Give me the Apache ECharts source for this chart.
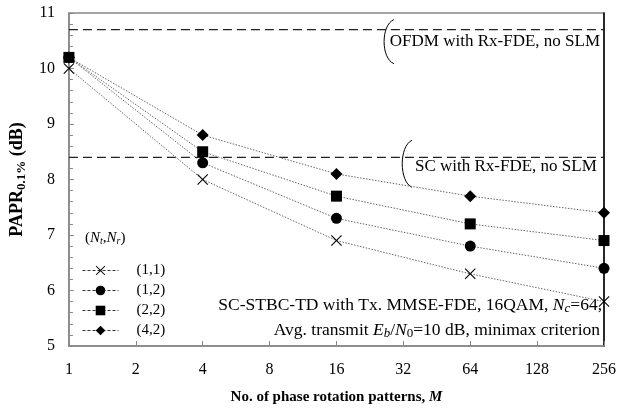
<!DOCTYPE html>
<html><head><meta charset="utf-8">
<script src="https://cdn.jsdelivr.net/npm/echarts@6/dist/echarts.min.js"></script>
<style>html,body{margin:0;padding:0;background:#fff}#c{width:619px;height:410px}</style>
</head><body><div id="c"></div>
<script>
// ---- data ----
var M = [1, 4, 16, 64, 256];
var s11 = [10.0, 8.0, 6.9, 6.3, 5.8];
var s12 = [10.2, 8.3, 7.3, 6.8, 6.4];
var s22 = [10.2, 8.5, 7.7, 7.2, 6.9];
var s42 = [10.2, 8.8, 8.1, 7.7, 7.4];
var seriesNames = ['(1,1)', '(1,2)', '(2,2)', '(4,2)'];
var ofdmRef = 10.7;
var scRef = 8.4;
var xTicks = [1, 2, 4, 8, 16, 32, 64, 128, 256];
var ofdmLabelM = 29;
var scLabelM = 35;

var FONT = '"Liberation Serif", "Times New Roman", serif';
var crossPath = 'path://M0.7,0 L5,4.3 L9.3,0 L10,0.7 L5.7,5 L10,9.3 L9.3,10 L5,5.7 L0.7,10 L0,9.3 L4.3,5 L0,0.7 Z';
var symbols = [crossPath, 'circle', 'rect', 'diamond'];
var sizes = [11, 11, 11, 12];
var allData = [s11, s12, s22, s42];

function pairs(arr) { return M.map(function (m, i) { return [m, arr[i]]; }); }

var series = allData.map(function (d, k) {
  return {
    name: seriesNames[k], type: 'line', data: pairs(d),
    symbol: symbols[k], symbolSize: sizes[k],
    itemStyle: { color: '#000' },
    lineStyle: { color: '#666', width: 1, type: [1.5, 1.5] },
    z: 3
  };
});
series.push({
  name: 'ofdm', type: 'line', data: [[xTicks[0], ofdmRef], [xTicks[xTicks.length - 1], ofdmRef]],
  symbol: 'none', lineStyle: { color: '#222', width: 1.2, type: [9, 5] }, silent: true, z: 2
});
series.push({
  name: 'sc', type: 'line', data: [[xTicks[0], scRef], [xTicks[xTicks.length - 1], scRef]],
  symbol: 'none', lineStyle: { color: '#222', width: 1.2, type: [9, 5] }, silent: true, z: 2
});

var chart = echarts.init(document.getElementById('c'), null, { renderer: 'canvas' });
var option = {
  animation: false,
  textStyle: { fontFamily: FONT },
  grid: { left: 62, right: 14, top: 13, bottom: 55, show: true, borderColor: '#888', borderWidth: 1.5 },
  xAxis: [{
    type: 'log', logBase: 2, min: 1, max: 256, interval: 1,
    axisLine: { lineStyle: { color: '#888', width: 1.5 } },
    axisTick: { inside: true, length: 5, lineStyle: { color: '#888' } },
    minorTick: { show: false },
    splitLine: { show: false },
    axisLabel: { color: '#000', fontSize: 16, fontFamily: FONT, margin: 16 },
    name: '{b|No. of phase rotation patterns, }{bi|M}',
    nameLocation: 'middle', nameGap: 44,
    nameTextStyle: { rich: {
      b: { fontFamily: FONT, fontWeight: 'bold', fontSize: 15, color: '#000' },
      bi: { fontFamily: FONT, fontWeight: 'bold', fontStyle: 'italic', fontSize: 15, color: '#000' }
    } }
  }],
  yAxis: [{
    type: 'value', min: 5, max: 11, interval: 1,
    axisLine: { show: true, lineStyle: { color: '#888', width: 1.5 } },
    axisTick: { show: true, inside: true, length: 5, lineStyle: { color: '#888' } },
    minorTick: { show: true, splitNumber: 5, length: 4, lineStyle: { color: '#888' } },
    splitLine: { show: false },
    axisLabel: { color: '#000', fontSize: 16, fontFamily: FONT, margin: 14 },
    name: '{b|PAPR}{s|0.1%}{b| (dB)}',
    nameLocation: 'middle', nameGap: 40, nameRotate: 90,
    nameTextStyle: { rich: {
      b: { fontFamily: FONT, fontWeight: 'bold', fontSize: 18, color: '#000' },
      s: { fontFamily: FONT, fontWeight: 'bold', fontSize: 13, color: '#000', padding: [9, 0, 0, 0] }
    } }
  }, {
    type: 'value', min: 5, max: 11, position: 'right',
    axisLine: { show: true, lineStyle: { color: '#000', width: 1.5 } },
    axisTick: { show: false }, axisLabel: { show: false }, splitLine: { show: false }
  }],
  legend: {
    data: seriesNames, orient: 'vertical', left: 77, top: 258,
    itemWidth: 36, itemHeight: 12, itemGap: 5,
    lineStyle: { type: [3, 2], color: '#333', width: 1 },
    textStyle: { fontFamily: FONT, fontSize: 15, lineHeight: 15, color: '#000', padding: [0, 0, 0, 13] }
  },
  series: series
};
chart.setOption(option);

// annotations positioned through the axes
function px(x, y) { return chart.convertToPixel({ xAxisIndex: 0, yAxisIndex: 0 }, [x, y]); }
function arc(x, yTop, yBot) {
  var h = yBot - yTop;
  return { type: 'bezierCurve', shape: { x1: x, y1: yTop, x2: x, y2: yBot,
    cpx1: x - 13, cpy1: yTop + h * 0.12, cpx2: x - 13, cpy2: yBot - h * 0.12 },
    style: { fill: null, stroke: '#000', lineWidth: 1 } };
}
var pO = px(ofdmLabelM, ofdmRef);
var pS = px(scLabelM, scRef);
var pR = px(256, 5);
var richBase = {
  n: { fontFamily: FONT, fontSize: 17.5, color: '#000' },
  i: { fontFamily: FONT, fontSize: 17.5, fontStyle: 'italic', color: '#000' },
  s: { fontFamily: FONT, fontSize: 13, color: '#000', padding: [8, 0, 0, 0] },
  si: { fontFamily: FONT, fontSize: 13, fontStyle: 'italic', color: '#000', padding: [8, 0, 0, 0] }
};
var graphics = [
  arc(pO[0], pO[1] - 10, pO[1] + 34),
  { type: 'text', x: pO[0] - 4, y: pO[1] + 12, style: { text: 'OFDM with Rx-FDE, no SLM', font: '17px ' + FONT, fill: '#000', verticalAlign: 'middle', align: 'left' } },
  arc(pS[0], pS[1] - 17, pS[1] + 30),
  { type: 'text', x: pS[0] + 3, y: pS[1] + 9, style: { text: 'SC with Rx-FDE, no SLM', font: '17px ' + FONT, fill: '#000', verticalAlign: 'middle', align: 'left' } },
  { type: 'text', x: pR[0] - 2, y: pR[1] - 41, style: { text: '{n|SC-STBC-TD with Tx. MMSE-FDE, 16QAM, }{i|N}{si|c}{n|=64,}', rich: richBase, align: 'right', verticalAlign: 'middle' } },
  { type: 'text', x: pR[0] - 4, y: pR[1] - 16, style: { text: '{n|Avg. transmit }{i|E}{si|b}{n|/}{i|N}{s|0}{n|=10 dB, minimax criterion}', rich: richBase, align: 'right', verticalAlign: 'middle' } },
  { type: 'text', x: 85, y: 238, style: { text: '{n|(}{i|N}{si|t}{n|,}{i|N}{si|r}{n|)}', rich: {
      n: { fontFamily: FONT, fontSize: 15, color: '#000' },
      i: { fontFamily: FONT, fontSize: 15, fontStyle: 'italic', color: '#000' },
      si: { fontFamily: FONT, fontSize: 10, fontStyle: 'italic', color: '#000', padding: [7, 0, 0, 0] } }, align: 'left', verticalAlign: 'middle' } }
];
chart.setOption({ graphic: graphics });
</script></body></html>
